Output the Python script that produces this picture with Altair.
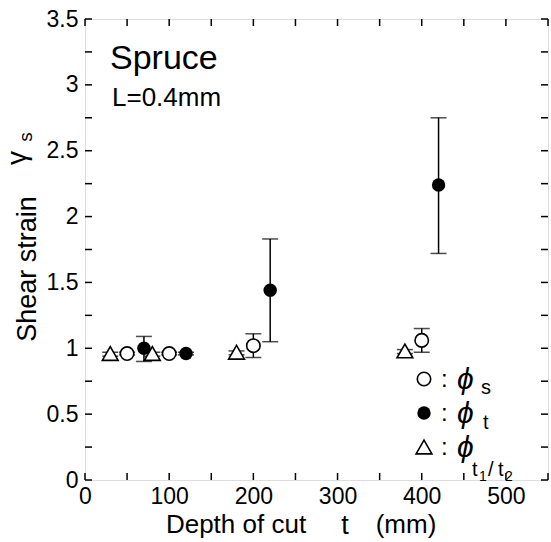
import altair as alt
import pandas as pd

# ---- data ----
depth_s = [50, 100, 200, 400]
phi_s = [0.96, 0.96, 1.02, 1.06]
phi_s_lo = [0.95, 0.95, 0.93, 0.97]
phi_s_hi = [0.97, 0.97, 1.11, 1.15]

depth_t = [70, 120, 220, 420]
phi_t = [1.00, 0.96, 1.44, 2.24]
phi_t_lo = [0.90, 0.95, 1.05, 1.72]
phi_t_hi = [1.09, 0.97, 1.83, 2.75]

depth_r = [30, 80, 180, 380]
phi_r = [0.96, 0.96, 0.97, 0.98]
phi_r_lo = [0.94, 0.94, 0.95, 0.96]
phi_r_hi = [0.97, 0.97, 0.98, 0.99]

x_labels = [0, 100, 200, 300, 400, 500]
y_labels = [0, 0.5, 1, 1.5, 2, 2.5, 3, 3.5]
x_minor = [0, 50, 100, 150, 200, 250, 300, 350, 400, 450, 500, 550]
y_minor = [0, 0.25, 0.5, 0.75, 1, 1.25, 1.5, 1.75, 2, 2.25, 2.5, 2.75, 3, 3.25, 3.5]

W, H = 463, 461
FONT = "Liberation Sans"
TL = 7

def frame(depth, val, lo, hi):
    return pd.DataFrame({"depth": depth, "val": val, "lo": lo, "hi": hi})

ds = frame(depth_s, phi_s, phi_s_lo, phi_s_hi)
dt = frame(depth_t, phi_t, phi_t_lo, phi_t_hi)
dr = frame(depth_r, phi_r, phi_r_lo, phi_r_hi)

xs = alt.Scale(domain=[0, 550], nice=False)
ys = alt.Scale(domain=[0, 3.5], nice=False)

X = alt.X("depth:Q", scale=xs, axis=alt.Axis(values=x_labels, title=None, tickSize=0, domain=False, grid=False,
                                               labelFont=FONT, labelFontSize=23, labelColor="black", labelPadding=5,
                                               labelFlush=False))
Y = alt.Y("val:Q", scale=ys, axis=alt.Axis(values=y_labels, title=None, tickSize=0, domain=False, grid=False,
                                            format="~g", labelFont=FONT, labelFontSize=23, labelColor="black",
                                            labelPadding=7, labelFlush=False))

def marker_size(shape):
    return 180 if shape == "circle" else 250

def series(df, shape, filled):
    base = alt.Chart(df)
    bars = base.mark_rule(color="black", strokeWidth=1.5).encode(
        x=alt.X("depth:Q", scale=xs), y=alt.Y("lo:Q", scale=ys), y2="hi:Q")
    cap_lo = base.mark_tick(color="black", orient="horizontal", size=16, thickness=1.5).encode(
        x=alt.X("depth:Q", scale=xs), y=alt.Y("lo:Q", scale=ys))
    cap_hi = base.mark_tick(color="black", orient="horizontal", size=16, thickness=1.5).encode(
        x=alt.X("depth:Q", scale=xs), y=alt.Y("hi:Q", scale=ys))
    pts = base.mark_point(shape=shape, filled=filled, size=marker_size(shape),
                          color="black", fill="black" if filled else "white", fillOpacity=1,
                          opacity=1, strokeWidth=1.6).encode(x=X, y=Y)
    return bars + cap_lo + cap_hi + pts

# inward ticks
ydf = pd.DataFrame({"v": y_minor})
xdf = pd.DataFrame({"v": x_minor})
ticks = (
    alt.Chart(ydf).mark_rule(color="black", strokeWidth=1.5).encode(
        y=alt.Y("v:Q", scale=ys), x=alt.value(0), x2=alt.value(TL))
    + alt.Chart(ydf).mark_rule(color="black", strokeWidth=1.5).encode(
        y=alt.Y("v:Q", scale=ys), x=alt.value(W - TL), x2=alt.value(W))
    + alt.Chart(xdf).mark_rule(color="black", strokeWidth=1.5).encode(
        x=alt.X("v:Q", scale=xs), y=alt.value(H), y2=alt.value(H - TL))
    + alt.Chart(xdf).mark_rule(color="black", strokeWidth=1.5).encode(
        x=alt.X("v:Q", scale=xs), y=alt.value(0), y2=alt.value(TL))
)

one = pd.DataFrame({"a": [0]})

def label(text, x, y, size, align="left", baseline="alphabetic", angle=0, style="normal", font=FONT):
    kw = dict(text=text, fontSize=size, align=align, baseline=baseline, font=font, color="black",
              fontStyle=style)
    if angle:
        kw["angle"] = angle
    return alt.Chart(one).mark_text(**kw).encode(x=alt.value(x), y=alt.value(y))

def sym(x, y, shape, filled):
    return alt.Chart(one).mark_point(shape=shape, filled=filled, size=marker_size(shape),
                                     color="black", fill="black" if filled else "white", fillOpacity=1,
                                     opacity=1, strokeWidth=1.6).encode(x=alt.value(x), y=alt.value(y))

annot = [
    label("Spruce", 25, 50, 34),
    label("L=0.4mm", 27, 87, 26),
    # x title
    label("Depth of cut", 151, 514, 26, align="center"),
    label("t", 260, 515, 27, align="center"),
    label("(mm)", 321, 514, 26, align="center"),
    # y title
    label("Shear strain", -57, 250, 27, align="center", baseline="middle", angle=270),
    label("γ", -59, 139, 28, align="center", baseline="alphabetic", angle=270),
    label("s", -53, 118, 19, align="center", baseline="alphabetic", angle=270),
    # legend
    sym(339, 360, "circle", False),
    label(":", 356, 368, 24),
    label("ϕ", 372, 370, 30, style="italic"),
    label("s", 396, 375, 20),
    sym(339, 394, "circle", True),
    label(":", 356, 402, 24),
    label("ϕ", 372, 404, 30, style="italic"),
    label("t", 398, 410, 20),
    sym(339, 428, "triangle-up", False),
    label(":", 356, 436, 24),
    label("ϕ", 372, 438, 30, style="italic"),
    label("t", 387, 457, 20),
    label("1", 394, 462, 14),
    label("/", 403, 457, 20),
    label("t", 413, 457, 20),
    label("2", 420, 462, 14),
]

chart = alt.layer(
    ticks,
    series(dr, "triangle-up", False),
    series(ds, "circle", False),
    series(dt, "circle", True),
    *annot,
).properties(
    width=W, height=H,
    padding={"left": 85, "top": 19, "right": 3, "bottom": 62},
    autosize=alt.AutoSizeParams(type="none"),
).configure_view(stroke="black", strokeWidth=1.5).configure(background="white")

chart.save("out.html", embed_options={"renderer": "svg", "actions": False})
